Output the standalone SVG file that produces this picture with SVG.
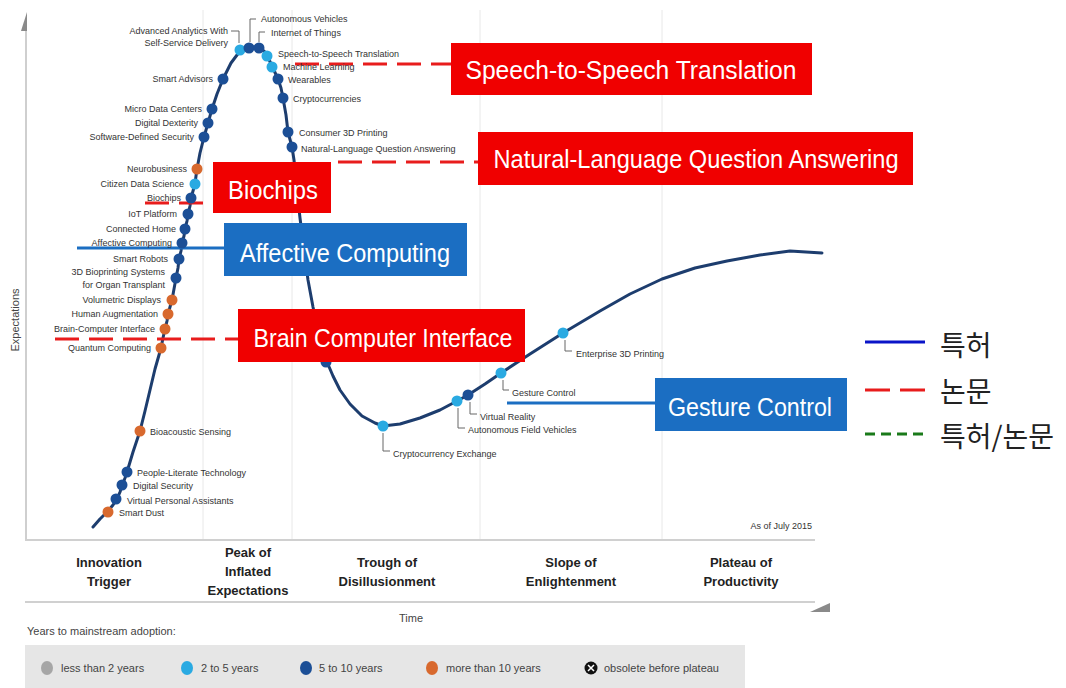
<svg xmlns="http://www.w3.org/2000/svg" width="1066" height="688" viewBox="0 0 1066 688">
<style>
  .lbl{font-family:"Liberation Sans",Arial,sans-serif;font-size:9px;fill:#333}
  .end{text-anchor:end}
  .ph{font-family:"Liberation Sans",Arial,sans-serif;font-size:13px;font-weight:bold;fill:#222;text-anchor:middle}
  .sm{font-family:"Liberation Sans",Arial,sans-serif;font-size:11px;fill:#444}
  .big{font-family:"Liberation Sans",Arial,sans-serif;font-size:25px;fill:#fff;text-anchor:middle}
  .ko{font-family:"Noto Sans CJK KR",sans-serif;font-size:28px;fill:#222}
  .d0{fill:#a6a6a6}.d2{fill:#2aaae2}.d5{fill:#1c4f96}.d10{fill:#d8692e}
  .br{fill:none;stroke:#666;stroke-width:1}
  .div{stroke:#e8e8e8;stroke-width:1}
  .redbox{fill:#f00000}.bluebox{fill:#1b6ec2}
  .rdash{fill:none;stroke:#e81c1c;stroke-width:3;stroke-dasharray:24 10}
  .bline{fill:none;stroke:#1b6ec2;stroke-width:3}
</style>
<rect width="1066" height="688" fill="#fff"/>
<g id="frame">
  <line class="div" x1="203" y1="10" x2="203" y2="540"/>
  <line class="div" x1="292" y1="10" x2="292" y2="540"/>
  <line class="div" x1="480" y1="10" x2="480" y2="540"/>
  <line class="div" x1="662" y1="10" x2="662" y2="540"/>
  <line x1="26" y1="28" x2="26" y2="540" stroke="#cfcfcf" stroke-width="2"/>
  <polygon points="21,31 27,12 27,31" fill="#8a8a8a"/>
  <line x1="25" y1="540" x2="815" y2="540" stroke="#d0d0d0" stroke-width="2"/>
  <line x1="25" y1="602" x2="815" y2="602" stroke="#d0d0d0" stroke-width="2"/>
  <polygon points="810,612 830,603 830,612" fill="#8a8a8a"/>
  <text class="sm" transform="translate(19,320) rotate(-90)" text-anchor="middle" fill="#555">Expectations</text>
  <text class="lbl" x="812" y="529" text-anchor="end" font-size="8">As of July 2015</text>
  <text class="ph" x="109" y="567">Innovation</text>
  <text class="ph" x="109" y="586">Trigger</text>
  <text class="ph" x="248" y="557">Peak of</text>
  <text class="ph" x="248" y="576">Inflated</text>
  <text class="ph" x="248" y="595">Expectations</text>
  <text class="ph" x="387" y="567">Trough of</text>
  <text class="ph" x="387" y="586">Disillusionment</text>
  <text class="ph" x="571" y="567">Slope of</text>
  <text class="ph" x="571" y="586">Enlightenment</text>
  <text class="ph" x="741" y="567">Plateau of</text>
  <text class="ph" x="741" y="586">Productivity</text>
  <text class="sm" x="411" y="622" text-anchor="middle" fill="#555">Time</text>
</g>
<g id="adoption-legend">
  <text class="sm" x="27" y="635">Years to mainstream adoption:</text>
  <rect x="25" y="645" width="720" height="43" fill="#e6e6e6"/>
  <ellipse class="d0" cx="47" cy="668" rx="6" ry="7"/>
  <text class="sm" x="61" y="672">less than 2 years</text>
  <ellipse class="d2" cx="187" cy="668" rx="6" ry="7"/>
  <text class="sm" x="201" y="672">2 to 5 years</text>
  <ellipse class="d5" cx="306" cy="668" rx="6" ry="7"/>
  <text class="sm" x="319" y="672">5 to 10 years</text>
  <ellipse class="d10" cx="432" cy="668" rx="6" ry="7"/>
  <text class="sm" x="446" y="672">more than 10 years</text>
  <circle cx="591" cy="668" r="6.5" fill="#111"/>
  <path d="M588,665 L594,671 M594,665 L588,671" stroke="#fff" stroke-width="1.5"/>
  <text class="sm" x="604" y="672">obsolete before plateau</text>
</g>
<g id="curve">
  <polyline fill="none" stroke="#1d3d6e" stroke-width="3" stroke-linejoin="round" stroke-linecap="round" points="93,527 100,519 108,511 113,505 117,499 120,492 122,486 125,478 127,472 133,452 140,431 145,411 150,390 155,369 161,348 163,338 165,329 167,321 168,314 170,307 172,300 174,289 176,278 178,268 179,259 181,251 182,243 184,236 185,229 187,221 188,214 190,206 191,198 193,191 195,184 196,176 197,169 200,153 204,137 206,130 208,123 210,116 212,109 217,94 223,79 231,63 240,51 249,47 259,47 266,53 272,66 278,79 281,88 283,98 286,115 288,132 292,147 294,160 297,190 300,218 304,250 308,280 313,307 319,335 324,352 327,362 333,376 340,390 350,404 362,416 375,423 383,426 400,424 420,418 440,410 457,401 468,395 485,384 501,373 530,354 563,333 600,311 630,294 662,279 695,268 727,261 760,255 790,251 822,253"/>
</g>
<g id="connectors">
  <line class="rdash" x1="145" y1="203" x2="205" y2="203"/>
  <line class="rdash" x1="55" y1="339" x2="238" y2="339"/>
  <line class="rdash" x1="295" y1="64" x2="451" y2="64"/>
  <line class="rdash" x1="338" y1="162" x2="478" y2="162"/>
  <line class="bline" x1="77" y1="248" x2="224" y2="248"/>
  <line class="bline" x1="507" y1="403" x2="655" y2="403"/>
</g>
<g id="p-smart-dust"><circle class="d10" cx="108" cy="512" r="5.5"/><text class="lbl" x="119" y="516">Smart Dust</text></g>
<g id="p-vpa"><circle class="d5" cx="116" cy="499" r="5.5"/><text class="lbl" x="127" y="504">Virtual Personal Assistants</text></g>
<g id="p-digital-security"><circle class="d5" cx="122" cy="485" r="5.5"/><text class="lbl" x="133" y="489">Digital Security</text></g>
<g id="p-people-literate"><circle class="d5" cx="127" cy="472" r="5.5"/><text class="lbl" x="137" y="476">People-Literate Technology</text></g>
<g id="p-bioacoustic"><circle class="d10" cx="140" cy="431" r="5.5"/><text class="lbl" x="150" y="435">Bioacoustic Sensing</text></g>
<g id="p-quantum"><circle class="d10" cx="161" cy="348" r="5.5"/><text class="lbl end" x="151" y="351">Quantum Computing</text></g>
<g id="p-bci"><circle class="d10" cx="165" cy="329" r="5.5"/><text class="lbl end" x="155" y="332">Brain-Computer Interface</text></g>
<g id="p-human-aug"><circle class="d10" cx="168" cy="314" r="5.5"/><text class="lbl end" x="158" y="317">Human Augmentation</text></g>
<g id="p-volumetric"><circle class="d10" cx="172" cy="300" r="5.5"/><text class="lbl end" x="161" y="303">Volumetric Displays</text></g>
<g id="p-bioprinting"><circle class="d5" cx="176" cy="278" r="5.5"/><text class="lbl end" x="165" y="275">3D Bioprinting Systems</text><text class="lbl end" x="165" y="288">for Organ Transplant</text></g>
<g id="p-smart-robots"><circle class="d5" cx="179" cy="259" r="5.5"/><text class="lbl end" x="168" y="262">Smart Robots</text></g>
<g id="p-affective"><circle class="d5" cx="182" cy="243" r="5.5"/><text class="lbl end" x="172" y="246">Affective Computing</text></g>
<g id="p-connected-home"><circle class="d5" cx="185" cy="229" r="5.5"/><text class="lbl end" x="176" y="232">Connected Home</text></g>
<g id="p-iot-platform"><circle class="d5" cx="188" cy="214" r="5.5"/><text class="lbl end" x="177" y="217">IoT Platform</text></g>
<g id="p-biochips"><circle class="d5" cx="191" cy="198" r="5.5"/><text class="lbl end" x="181" y="201">Biochips</text></g>
<g id="p-citizen"><circle class="d2" cx="195" cy="184" r="5.5"/><text class="lbl end" x="184" y="187">Citizen Data Science</text></g>
<g id="p-neurobusiness"><circle class="d10" cx="197" cy="169" r="5.5"/><text class="lbl end" x="187" y="172">Neurobusiness</text></g>
<g id="p-sds"><circle class="d5" cx="204" cy="137" r="5.5"/><text class="lbl end" x="194" y="140">Software-Defined Security</text></g>
<g id="p-dexterity"><circle class="d5" cx="208" cy="123" r="5.5"/><text class="lbl end" x="198" y="126">Digital Dexterity</text></g>
<g id="p-micro-dc"><circle class="d5" cx="212" cy="109" r="5.5"/><text class="lbl end" x="202" y="112">Micro Data Centers</text></g>
<g id="p-smart-advisors"><circle class="d5" cx="223" cy="79" r="5.5"/><text class="lbl end" x="213" y="82">Smart Advisors</text></g>
<g id="p-advanced-analytics"><circle class="d2" cx="240" cy="50" r="5.5"/><text class="lbl end" x="228" y="34">Advanced Analytics With</text><text class="lbl end" x="228" y="46">Self-Service Delivery</text><path class="br" d="M231,31 H239 V43"/></g>
<g id="p-autonomous-vehicles"><circle class="d5" cx="249" cy="48" r="5.5"/><text class="lbl" x="261" y="22">Autonomous Vehicles</text><path class="br" d="M250,42 V19 H256"/></g>
<g id="p-iot"><circle class="d5" cx="259" cy="48" r="5.5"/><text class="lbl" x="271" y="36">Internet of Things</text><path class="br" d="M259,42 V32 H265"/></g>
<g id="p-s2s"><circle class="d2" cx="267" cy="56" r="5.5"/><text class="lbl" x="278" y="57">Speech-to-Speech Translation</text></g>
<g id="p-ml"><circle class="d2" cx="272" cy="67" r="5.5"/><text class="lbl" x="283" y="70">Machine Learning</text></g>
<g id="p-wearables"><circle class="d5" cx="278" cy="79" r="5.5"/><text class="lbl" x="288" y="83">Wearables</text></g>
<g id="p-crypto"><circle class="d5" cx="283" cy="98" r="5.5"/><text class="lbl" x="293" y="102">Cryptocurrencies</text></g>
<g id="p-consumer3d"><circle class="d5" cx="288" cy="132" r="5.5"/><text class="lbl" x="299" y="136">Consumer 3D Printing</text></g>
<g id="p-nlqa"><circle class="d5" cx="292" cy="147" r="5.5"/><text class="lbl" x="301" y="152">Natural-Language Question Answering</text></g>
<g id="p-hidden"><circle class="d5" cx="326" cy="362" r="5.5"/></g>
<g id="p-crypto-exchange"><circle class="d2" cx="383" cy="426" r="5.5"/><path class="br" d="M383,433 V451 H390"/><text class="lbl" x="393" y="457">Cryptocurrency Exchange</text></g>
<g id="p-afv"><circle class="d2" cx="457" cy="401" r="5.5"/><path class="br" d="M458,408 V428 H465"/><text class="lbl" x="468" y="433">Autonomous Field Vehicles</text></g>
<g id="p-vr"><circle class="d5" cx="468" cy="395" r="5.5"/><path class="br" d="M470,402 V414 H477"/><text class="lbl" x="480" y="420">Virtual Reality</text></g>
<g id="p-gesture"><circle class="d2" cx="501" cy="373" r="5.5"/><path class="br" d="M503,380 V390 H509"/><text class="lbl" x="512" y="396">Gesture Control</text></g>
<g id="p-enterprise3d"><circle class="d2" cx="563" cy="333" r="5.5"/><path class="br" d="M565,340 V351 H572"/><text class="lbl" x="576" y="357">Enterprise 3D Printing</text></g>
<g id="box-s2s"><rect class="redbox" x="451" y="43" width="361" height="52"/><text class="big" x="631" y="79" textLength="331" lengthAdjust="spacingAndGlyphs">Speech-to-Speech Translation</text></g>
<g id="box-nlqa"><rect class="redbox" x="478" y="132" width="435" height="53"/><text class="big" x="696" y="168" textLength="405" lengthAdjust="spacingAndGlyphs">Natural-Language Question Answering</text></g>
<g id="box-biochips"><rect class="redbox" x="213" y="162" width="118" height="51"/><text class="big" x="273" y="199" textLength="90" lengthAdjust="spacingAndGlyphs">Biochips</text></g>
<g id="box-affective"><rect class="bluebox" x="224" y="223" width="243" height="53"/><text class="big" x="345" y="262" textLength="210" lengthAdjust="spacingAndGlyphs">Affective Computing</text></g>
<g id="box-bci"><rect class="redbox" x="238" y="309" width="287" height="53"/><text class="big" x="383" y="347" textLength="259" lengthAdjust="spacingAndGlyphs">Brain Computer Interface</text></g>
<g id="box-gesture"><rect class="bluebox" x="655" y="378" width="192" height="53"/><text class="big" x="750" y="416" textLength="164" lengthAdjust="spacingAndGlyphs">Gesture Control</text></g>
<g id="source-legend">
  <line x1="865" y1="342" x2="925" y2="342" stroke="#0a14c8" stroke-width="3"/>
  <text class="ko" x="940" y="356">특허</text>
  <line x1="865" y1="390" x2="925" y2="390" stroke="#e81c1c" stroke-width="3" stroke-dasharray="25 10"/>
  <text class="ko" x="940" y="402">논문</text>
  <line x1="865" y1="434" x2="925" y2="434" stroke="#1a7a1a" stroke-width="3" stroke-dasharray="10 6"/>
  <text class="ko" x="940" y="447">특허/논문</text>
</g>
</svg>
